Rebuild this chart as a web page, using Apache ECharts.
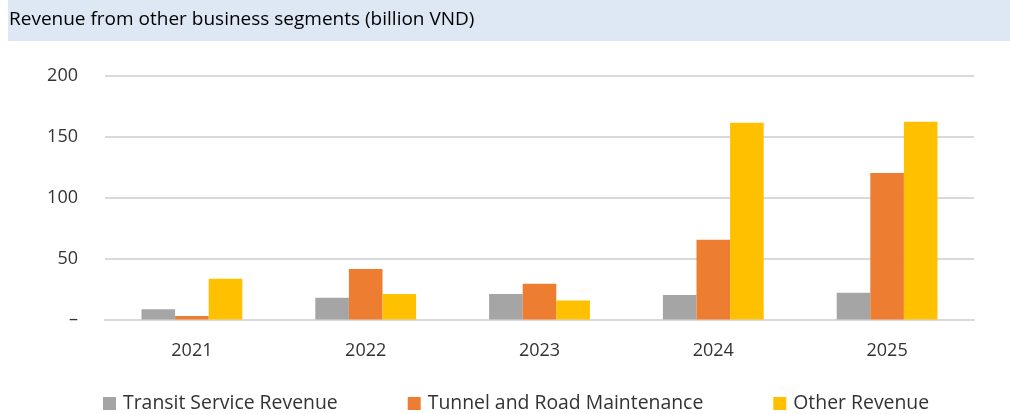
<!DOCTYPE html>
<html>
<head>
<meta charset="utf-8">
<script src="https://cdn.jsdelivr.net/npm/echarts@6/dist/echarts.min.js"></script>
<style>
  html, body { margin: 0; padding: 0; background: #fff; }
  #chart { width: 1010px; height: 414px; }
</style>
</head>
<body>
<div id="chart"></div>
<script>
var titleText = 'Revenue from other business segments (billion VND)'
var years = ['2021', '2022', '2023', '2024', '2025']
var seriesNames = ['Transit Service Revenue', 'Tunnel and Road Maintenance', 'Other Revenue']
var transitValues = [8.5, 17.8, 21, 20, 21.9]
var tunnelValues = [2.8, 41.3, 29.3, 65.3, 120]
var otherValues = [33.4, 21, 15.6, 161.2, 162]
var colors = ['#a5a5a5', '#ed7d31', '#ffc000']

function makeBar(name, data, color) {
    return {
        name: name,
        type: 'bar',
        data: data,
        barGap: '0%',
        barCategoryGap: '42%',
        itemStyle: { color: color },
        emphasis: { disabled: true }
    }
}

var chart = echarts.init(document.getElementById('chart'))
chart.setOption({
    animation: false,
    graphic: [{
        type: 'rect',
        left: 8,
        top: 0,
        shape: { width: 1002, height: 41 },
        style: { fill: '#dde8f4' },
        z: -1
    }],
    title: {
        text: titleText,
        left: 4,
        top: 5,
        textStyle: {
            fontFamily: 'Open Sans',
            fontWeight: 'normal',
            fontSize: 19,
            color: '#000'
        }
    },
    legend: {
        top: 389,
        left: 98,
        itemGap: 70,
        itemWidth: 13,
        itemHeight: 13,
        icon: 'rect',
        textStyle: { fontFamily: 'Open Sans', fontSize: 19.4, color: '#333', padding: [0, 0, 0, 2] }
    },
    grid: { left: 105, right: 36, top: 75.5, bottom: 94.5 },
    xAxis: {
        type: 'category',
        data: years,
        axisTick: { show: false },
        axisLine: { lineStyle: { color: '#d9d9d9', width: 2 } },
        axisLabel: { margin: 22, fontFamily: 'Open Sans', fontSize: 18, color: '#333' }
    },
    yAxis: {
        type: 'value',
        min: 0,
        max: 200,
        interval: 50,
        axisLine: { show: false },
        axisTick: { show: false },
        splitLine: { lineStyle: { color: '#d9d9d9', width: 2 } },
        axisLabel: {
            margin: 27,
            fontFamily: 'Open Sans',
            fontSize: 18,
            color: '#333',
            formatter: function (v) { return v === 0 ? '–' : String(v) }
        }
    },
    series: [
        makeBar(seriesNames[0], transitValues, colors[0]),
        makeBar(seriesNames[1], tunnelValues, colors[1]),
        makeBar(seriesNames[2], otherValues, colors[2])
    ]
})
</script>
</body>
</html>
